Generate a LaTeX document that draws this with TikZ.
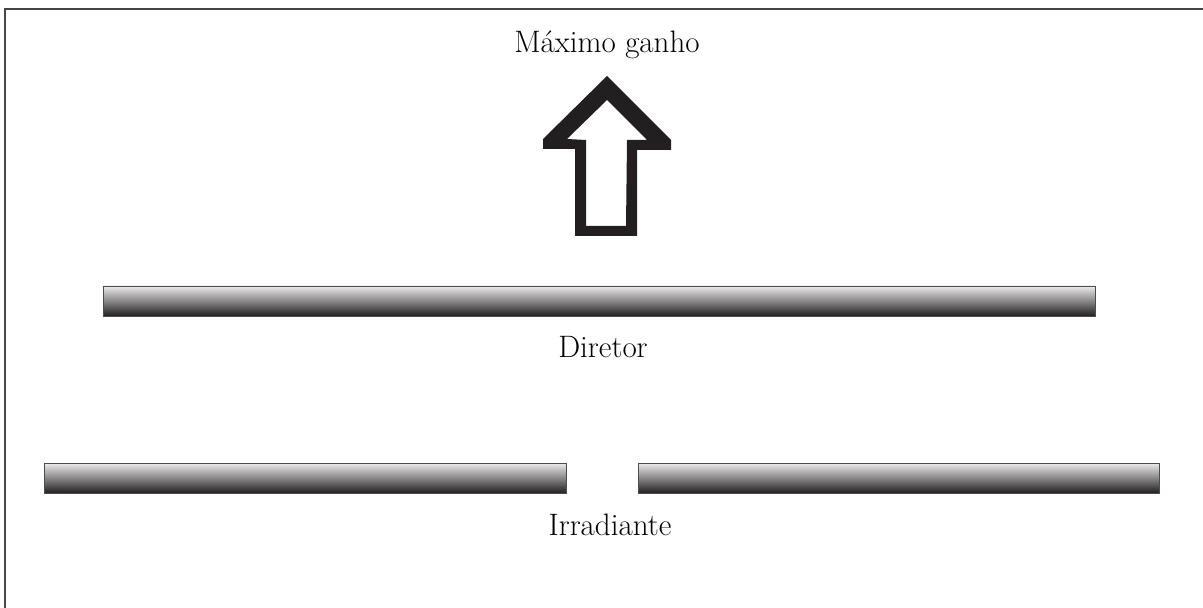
\documentclass[tikz,border=0pt]{standalone}
\usepackage{tikz}
\usetikzlibrary{calc,positioning}
\definecolor{yagi@dark}{RGB}{35,31,32}
\definecolor{yagi@light}{RGB}{236,236,236}
\definecolor{yagi@frame}{RGB}{70,70,70}

\begin{document}
\begin{tikzpicture}[
  x=0.5pt, y=-0.5pt,
  element/.style={
    rectangle, inner sep=0pt, minimum height=15pt,
    top color=yagi@light, bottom color=yagi@dark,
    draw=yagi@dark!80!white, line width=0.4pt,
  },
  label/.style={inner sep=0pt, font=\fontsize{15.5}{18}\selectfont},
]
\useasboundingbox (0,0) rectangle (1203,608);

% frame
\draw[yagi@frame, line width=1pt] (5,608) -- (5,9) -- (1203,9);

% gain direction
\node[label] (gain) at (607,45) {Máximo ganho};
\fill[yagi@dark, even odd rule]
  (607,76) -- (671,140) -- (671,150) -- (637,150) -- (637,236)
  -- (575,236) -- (575,149) -- (543,149) -- (543,139) -- cycle
  (607,100) -- (647,140) -- (627,140) -- (626,226)
  -- (586,226) -- (586,140) -- (567,139) -- cycle;

% director
\node[element, minimum width=496pt] (dir) at (599,301) {};
\node[label, below=10pt of dir, xshift=2pt] (dirlabel) {Diretor};

% driven element
\node[element, minimum width=261pt] (drvL) at (305,478) {};
\node[element, minimum width=260.5pt] (drvR) at (898.5,478) {};
\coordinate (gap) at ($(drvL.south east)!0.5!(drvR.south west)$);
\node[label, below=10pt of gap, xshift=4pt] (drvlabel) {Irradiante};

\end{tikzpicture}
\end{document}
